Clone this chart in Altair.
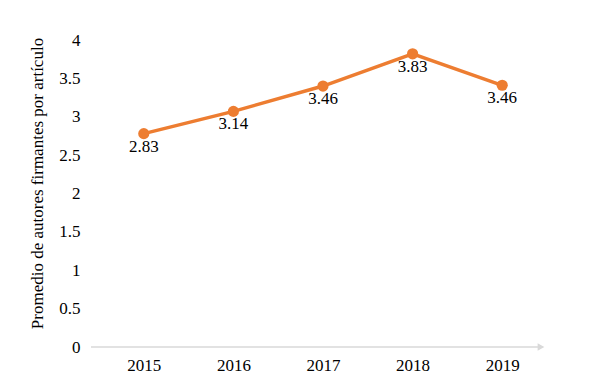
import altair as alt
import pandas as pd

years = ["2015", "2016", "2017", "2018", "2019"]
plotted = [2.78, 3.07, 3.40, 3.82, 3.41]
labels = ["2.83", "3.14", "3.46", "3.83", "3.46"]

df = pd.DataFrame({"year": years, "value": plotted, "label": labels})

FONT = "'Liberation Serif', 'Times New Roman', serif"
ORANGE = "#ED7D31"
W, H = 448, 307

x = alt.X("year:N", sort=years, scale=alt.Scale(type="point", padding=0.5),
          axis=alt.Axis(title=None, domain=False, ticks=False, labelAngle=0,
                        labelFont=FONT, labelFontSize=17, labelColor="#000",
                        labelPadding=10, grid=False))
y = alt.Y("value:Q", scale=alt.Scale(domain=[0, 4], nice=False),
          axis=alt.Axis(title="Promedio de autores firmantes por artículo",
                        values=[0, 0.5, 1, 1.5, 2, 2.5, 3, 3.5, 4],
                        format="~g",
                        domain=False, ticks=False, grid=False,
                        labelFont=FONT, labelFontSize=17, labelColor="#000",
                        labelPadding=19, titleFont=FONT, titleFontSize=17,
                        titleFontWeight="normal", titleColor="#000",
                        titlePadding=12, titleY=143, titleAlign="center"))

base = alt.Chart(df)

axis_line = base.mark_rule(color="#d9d9d9", strokeWidth=1.5).encode(
    x=alt.value(-8), x2=alt.value(440), y=alt.value(H))
arrow = base.mark_point(shape="triangle-right", filled=True, color="#d9d9d9",
                        size=60, opacity=1).encode(
    x=alt.value(442), y=alt.value(H))

line = base.mark_line(color=ORANGE, strokeWidth=3.5).encode(x=x, y=y)
pts = base.mark_point(filled=True, color=ORANGE, size=125, opacity=1).encode(x=x, y=y)
txt = base.mark_text(font=FONT, fontSize=17, color="#000", dy=13,
                     baseline="middle").encode(x=x, y=y, text="label:N")

chart = alt.layer(axis_line.transform_filter("datum.year == '2015'"),
                  arrow.transform_filter("datum.year == '2015'"),
                  line, pts, txt).properties(
    width=W, height=H,
    background="white",
    autosize=alt.AutoSizeParams(type="none"),
    padding={"left": 91, "top": 32, "right": 45, "bottom": 31},
).configure_view(strokeWidth=0)

chart.save("out.html", embed_options={"renderer": "svg", "actions": False})
